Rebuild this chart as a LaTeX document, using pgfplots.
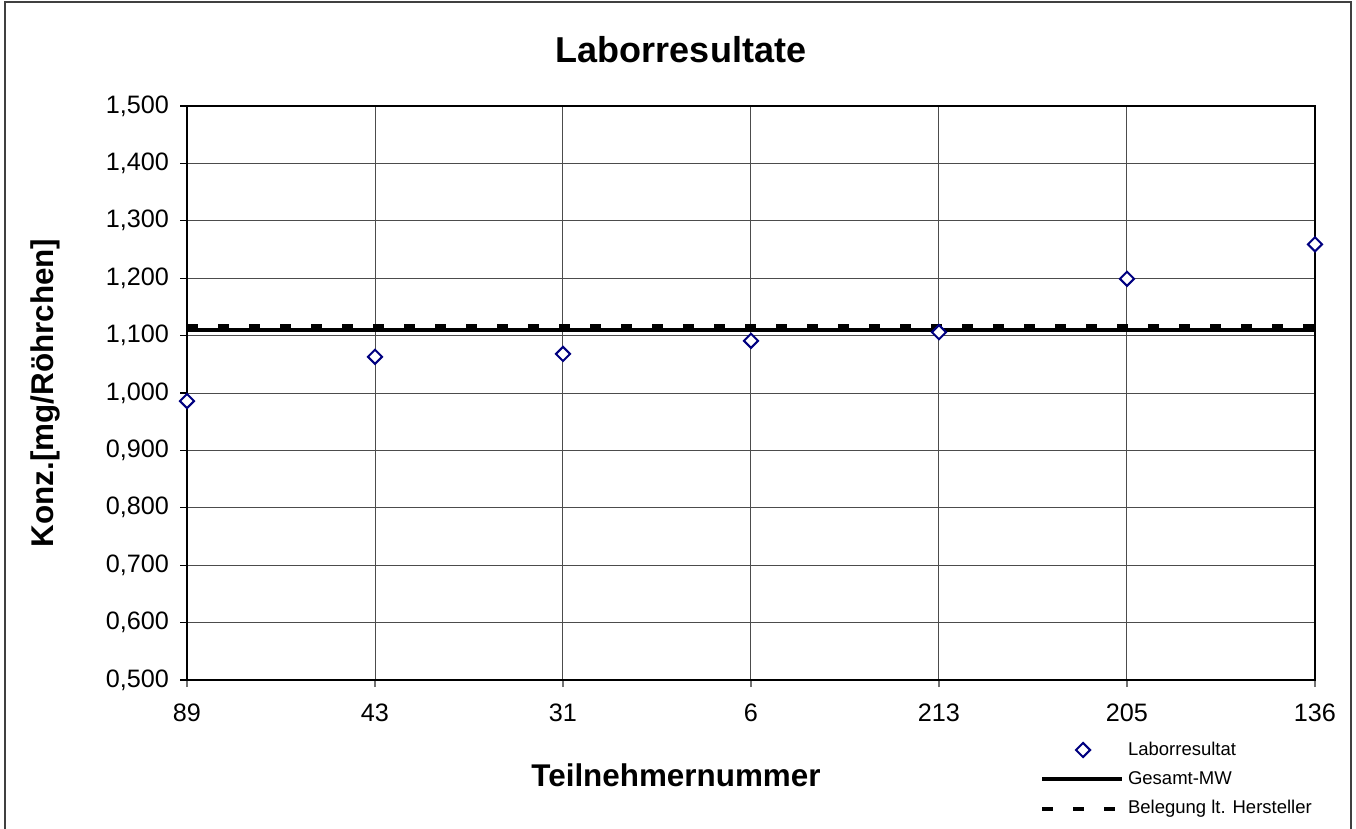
\documentclass[border=0pt]{standalone}
\usepackage{fontspec}
\setmainfont{Liberation Sans}
\usepackage{pgfplots}
\pgfplotsset{compat=1.18}
\definecolor{navy}{RGB}{0,0,128}
\begin{document}
\begin{tikzpicture}
\path[use as bounding box] (0pt,0pt) rectangle (678pt,-414.5pt);
\draw[black!75, line width=0.6pt] (2.5pt,-414.5pt) -- (2.5pt,-1pt) -- (675.5pt,-1pt) -- (675.5pt,-414.5pt);
\begin{axis}[
  at={(93.5pt,-340pt)}, anchor=south west,
  scale only axis, width=564pt, height=287pt,
  xmin=0, xmax=6, ymin=0.5, ymax=1.5,
  xtick={0,...,6}, xticklabels={89,43,31,6,213,205,136},
  ytick={0.5,0.6,...,1.5},
  tick pos=left,
  /pgf/number format/assume math mode=true,
  yticklabel style={/pgf/number format/fixed, /pgf/number format/fixed zerofill, /pgf/number format/precision=3, /pgf/number format/use comma, xshift=-2pt},
  tick label style={font=\fontsize{12.6}{15}\selectfont},
  xticklabel style={yshift=-5pt},
  tick align=outside, major tick length=3.5pt,
  ytick style={black, line width=0.6pt},
  xtick style={black!55, line width=0.6pt},
  axis line style={black, line width=1pt},
  grid=major, major grid style={black!70, line width=0.5pt},
  legend style={at={(0.7506,-0.093)}, anchor=north west, draw=none, fill=none,
    font=\fontsize{9.25}{11}\selectfont, row sep=2.6pt},
  legend cell align=left,
  reverse legend,
  legend image code/.code={\draw[mark repeat=2,mark phase=2,#1] plot coordinates {(0pt,0pt)(20.5pt,0pt)(40pt,0pt)};},
]
\addplot[black, line width=2pt, dash pattern=on 5.5pt off 10pt] coordinates {(0,1.117)(6,1.117)};
\addlegendentry{Belegung lt. Hersteller}
\addplot[black, line width=2pt] coordinates {(0,1.1105)(6,1.1105)};
\addlegendentry{Gesamt-MW}
\addplot[only marks, mark=square*, mark size=2.5pt, mark options={rotate=45, fill=white, draw=navy, line width=1pt}]
  coordinates {(0,0.986)(1,1.063)(2,1.068)(3,1.091)(4,1.106)(5,1.199)(6,1.259)};
\addlegendentry{Laborresultat}
\end{axis}
\node[font=\bfseries\fontsize{18}{21.6}\selectfont] at (340.5pt,-25pt) {Laborresultate};
\node[font=\bfseries\fontsize{15.7}{18}\selectfont, rotate=90] at (22.5pt,-196.5pt) {Konz.[mg/Röhrchen]};
\node[font=\bfseries\fontsize{15.7}{18}\selectfont] at (338pt,-387.5pt) {Teilnehmernummer};
\end{tikzpicture}
\end{document}
